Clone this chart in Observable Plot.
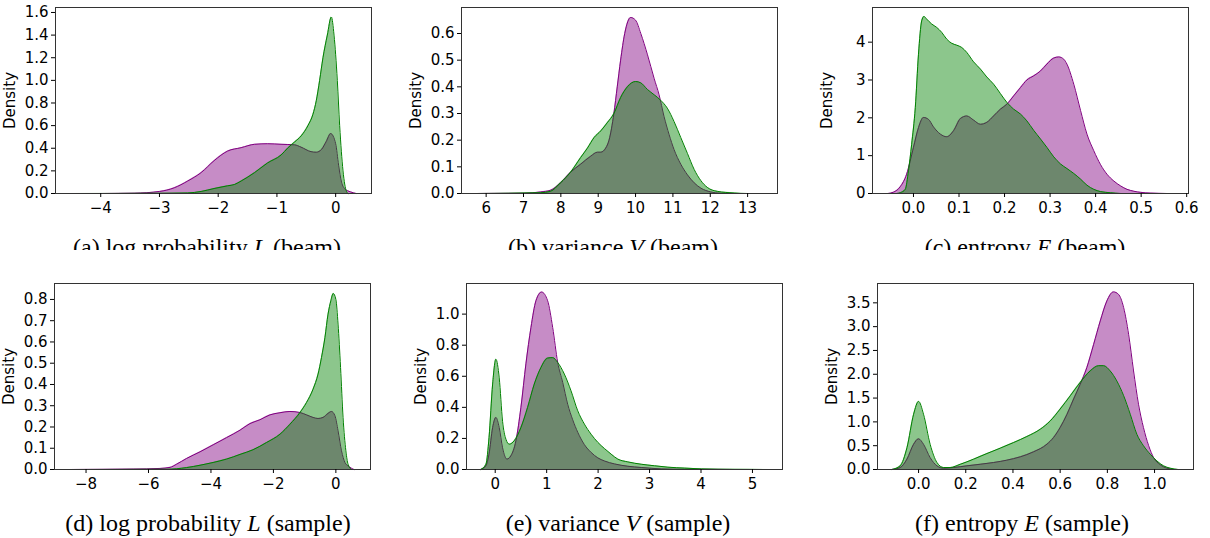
<!DOCTYPE html>
<html>
<head>
<meta charset="utf-8">
<script src="https://cdn.jsdelivr.net/npm/d3@7"></script>
<script src="https://cdn.jsdelivr.net/npm/@observablehq/plot@0.6"></script>
<style>
  html, body { margin: 0; padding: 0; background: #fff; }
  #root { position: relative; width: 1210px; height: 538px; overflow: hidden; background: #fff; }
  #row1 { position: absolute; left: 0; top: 0; width: 1210px; height: 250px; overflow: hidden; }
  .panel { position: absolute; }
  .cap { position: absolute; font-family: "Liberation Serif", "Times New Roman", serif; font-size: 24px; white-space: nowrap; transform: translateX(-50%); color: #000; line-height: 1; }
</style>
</head>
<body>
<div id="root"><div id="row1"></div></div>
<script>
// ---------- data ----------
// (a) log probability L (beam)
const aPurpleX = [-4.53,-4.0,-3.43,-3.0,-2.75,-2.52,-2.29,-2.07,-1.84,-1.61,-1.38,-1.16,-0.93,-0.70,-0.59,-0.42,-0.33,-0.24,-0.16,-0.085,0.0,0.05,0.1,0.16,0.25,0.35];
const aPurpleY = [0,0,0.003,0.018,0.05,0.11,0.185,0.29,0.375,0.405,0.435,0.44,0.435,0.43,0.41,0.37,0.365,0.39,0.46,0.53,0.44,0.25,0.1,0.04,0.015,0];
const aGreenX = [-4.53,-3.0,-2.52,-2.29,-2.07,-1.84,-1.72,-1.61,-1.38,-1.16,-0.93,-0.81,-0.70,-0.586,-0.472,-0.387,-0.33,-0.273,-0.216,-0.142,-0.074,-0.028,0.028,0.068,0.125,0.182,0.21];
const aGreenY = [0,0.002,0.005,0.018,0.044,0.068,0.08,0.11,0.185,0.27,0.34,0.405,0.455,0.51,0.60,0.70,0.82,1.0,1.2,1.4,1.56,1.4,1.0,0.6,0.2,0.02,0];

// (b) variance V (beam)
const bPurpleX = [5.74,7.01,7.46,7.72,7.99,8.26,8.53,8.80,8.98,9.07,9.20,9.29,9.42,9.51,9.60,9.71,9.87,10.0,10.14,10.32,10.50,10.63,10.76,10.90,11.03,11.21,11.39,11.57,11.75,12.01,12.28,12.64];
const bPurpleY = [0,0.001,0.006,0.012,0.04,0.08,0.11,0.14,0.155,0.155,0.17,0.2,0.3,0.4,0.5,0.6,0.66,0.65,0.6,0.52,0.43,0.37,0.29,0.22,0.165,0.11,0.07,0.04,0.02,0.006,0.001,0];
const bGreenX = [5.74,7.46,7.72,7.99,8.26,8.53,8.71,8.89,9.07,9.24,9.42,9.60,9.78,10.0,10.14,10.32,10.50,10.67,10.85,11.03,11.21,11.39,11.57,11.75,11.92,12.19,12.64,13.0,13.43];
const bGreenY = [0,0.003,0.008,0.04,0.08,0.135,0.17,0.21,0.235,0.265,0.30,0.36,0.40,0.42,0.415,0.39,0.37,0.35,0.32,0.27,0.21,0.15,0.09,0.048,0.023,0.008,0.002,0,0];

// (c) entropy E (beam)
const cPurpleX = [-0.057,-0.044,-0.029,-0.015,0,0.011,0.022,0.033,0.044,0.059,0.073,0.088,0.103,0.117,0.132,0.147,0.161,0.176,0.191,0.205,0.220,0.235,0.249,0.264,0.279,0.293,0.308,0.319,0.330,0.337,0.352,0.367,0.381,0.396,0.411,0.425,0.440,0.455,0.469,0.484,0.499,0.521,0.557,0.572];
const cPurpleY = [0,0.035,0.18,0.51,1.22,1.74,2.01,1.96,1.76,1.57,1.50,1.66,1.98,2.05,1.94,1.83,1.88,2.05,2.23,2.36,2.58,2.80,3.0,3.11,3.24,3.42,3.58,3.61,3.55,3.42,2.89,2.19,1.57,1.13,0.76,0.51,0.33,0.20,0.11,0.06,0.03,0.01,0,0];
const cGreenX = [-0.037,-0.029,-0.018,-0.011,-0.004,0.004,0.011,0.018,0.023,0.029,0.040,0.051,0.062,0.073,0.084,0.095,0.106,0.117,0.132,0.147,0.161,0.176,0.191,0.205,0.220,0.235,0.249,0.264,0.279,0.293,0.308,0.323,0.337,0.352,0.367,0.381,0.396,0.411,0.433,0.455];
const cGreenY = [0,0.02,0.11,0.6,1.3,2.27,3.68,4.56,4.68,4.61,4.48,4.39,4.26,4.08,3.97,3.92,3.86,3.73,3.48,3.29,3.08,2.89,2.64,2.41,2.23,2.10,1.92,1.67,1.44,1.22,0.97,0.78,0.66,0.53,0.38,0.22,0.11,0.05,0.02,0];

// (d) log probability L (sample)
const dPurpleX = [-8.53,-6.49,-5.63,-5.31,-5.10,-4.78,-4.35,-3.93,-3.50,-3.07,-2.75,-2.43,-2.11,-1.79,-1.47,-1.15,-0.94,-0.73,-0.57,-0.41,-0.25,-0.14,-0.03,0.07,0.18,0.29,0.39,0.50,0.58];
const dPurpleY = [0,0.002,0.005,0.01,0.025,0.052,0.083,0.116,0.15,0.185,0.216,0.234,0.257,0.267,0.273,0.268,0.257,0.245,0.24,0.245,0.264,0.273,0.253,0.182,0.088,0.033,0.017,0.006,0];
const dGreenX = [-8.53,-5.42,-4.78,-4.35,-3.93,-3.50,-3.07,-2.65,-2.22,-1.79,-1.47,-1.15,-0.94,-0.73,-0.57,-0.46,-0.35,-0.25,-0.16,-0.085,0,0.07,0.15,0.23,0.32,0.39,0.50];
const dGreenY = [0,0.001,0.009,0.02,0.033,0.049,0.071,0.093,0.127,0.166,0.213,0.268,0.315,0.378,0.449,0.527,0.621,0.731,0.794,0.828,0.80,0.684,0.48,0.245,0.088,0.025,0];

// (e) variance V (sample)
const ePurpleX = [-0.28,-0.18,-0.12,-0.05,0.013,0.078,0.143,0.227,0.305,0.403,0.50,0.597,0.695,0.792,0.903,1.019,1.117,1.214,1.312,1.409,1.506,1.604,1.734,1.864,1.994,2.123,2.318,2.578,2.838,3.227,3.682,4.656,5.305];
const ePurpleY = [0,0.024,0.1,0.27,0.335,0.27,0.14,0.067,0.088,0.185,0.4,0.68,0.914,1.086,1.142,1.086,0.914,0.69,0.56,0.42,0.32,0.24,0.16,0.11,0.075,0.055,0.036,0.021,0.013,0.004,0.001,0,0];
const eGreenX = [-0.28,-0.18,-0.12,-0.05,0.013,0.078,0.143,0.208,0.273,0.37,0.50,0.63,0.76,0.89,1.019,1.117,1.214,1.344,1.474,1.604,1.734,1.864,1.994,2.123,2.253,2.383,2.578,2.838,3.097,3.357,3.682,4.006,4.656,5.305];
const eGreenY = [0,0.034,0.206,0.55,0.71,0.59,0.31,0.195,0.163,0.185,0.27,0.4,0.55,0.657,0.717,0.72,0.689,0.614,0.506,0.378,0.292,0.227,0.175,0.135,0.099,0.067,0.049,0.034,0.024,0.015,0.009,0.004,0.001,0];

// (f) entropy E (sample)
const fPurpleX = [-0.113,-0.078,-0.049,-0.021,0,0.021,0.049,0.078,0.106,0.148,0.205,0.261,0.318,0.374,0.431,0.487,0.544,0.572,0.600,0.629,0.657,0.685,0.713,0.742,0.770,0.798,0.826,0.847,0.869,0.890,0.911,0.932,0.953,0.975,0.996,1.024,1.052,1.08];
const fPurpleY = [0,0.04,0.22,0.53,0.644,0.53,0.25,0.077,0.028,0.042,0.077,0.11,0.147,0.196,0.266,0.371,0.532,0.672,0.882,1.16,1.48,1.79,2.14,2.63,3.12,3.54,3.73,3.68,3.40,2.84,2.07,1.37,0.88,0.5,0.25,0.1,0.028,0];
const fGreenX = [-0.113,-0.078,-0.049,-0.021,0,0.021,0.049,0.078,0.106,0.134,0.177,0.233,0.29,0.346,0.403,0.459,0.516,0.558,0.60,0.643,0.685,0.727,0.763,0.784,0.812,0.84,0.869,0.897,0.925,0.953,0.982,1.01,1.038,1.066,1.10];
const fGreenY = [0,0.077,0.46,1.16,1.43,1.16,0.53,0.147,0.042,0.042,0.11,0.217,0.336,0.448,0.567,0.693,0.847,1.02,1.27,1.55,1.83,2.07,2.18,2.18,2.07,1.86,1.55,1.16,0.74,0.5,0.32,0.18,0.077,0.028,0];

// tick labels
const aXTicks = [-4,-3,-2,-1,0];            const aYTicks = [0,0.2,0.4,0.6,0.8,1.0,1.2,1.4,1.6];
const bXTicks = [6,7,8,9,10,11,12,13];      const bYTicks = [0,0.1,0.2,0.3,0.4,0.5,0.6];
const cXTicks = [0,0.1,0.2,0.3,0.4,0.5,0.6]; const cYTicks = [0,1,2,3,4];
const dXTicks = [-8,-6,-4,-2,0];            const dYTicks = [0,0.1,0.2,0.3,0.4,0.5,0.6,0.7,0.8];
const eXTicks = [0,1,2,3,4,5];              const eYTicks = [0,0.2,0.4,0.6,0.8,1.0];
const fXTicks = [0,0.2,0.4,0.6,0.8,1.0];    const fYTicks = [0,0.5,1.0,1.5,2.0,2.5,3.0,3.5];

const captions = [
  ["(a) log probability ", "L", " (beam)"],
  ["(b) variance ", "V", " (beam)"],
  ["(c) entropy ", "E", " (beam)"],
  ["(d) log probability ", "L", " (sample)"],
  ["(e) variance ", "V", " (sample)"],
  ["(f) entropy ", "E", " (sample)"]
];

// ---------- layout / drawing ----------
const ML = 60, MR = 10, MT = 5, MB = 35, FW = 316, FH = 186;
const FONT = "'DejaVu Sans', sans-serif";
const panels = [
  {px: aPurpleX, py: aPurpleY, gx: aGreenX, gy: aGreenY, xd: [-4.77, 0.61], yd: [0, 1.644], xt: aXTicks, yt: aYTicks, xf: "d", yf: ".1f", left: 55,    top: 6.5,   capX: 207,  capY: 235.3, row1: true},
  {px: bPurpleX, py: bPurpleY, gx: bGreenX, gy: bGreenY, xd: [5.34, 13.8],  yd: [0, 0.6975], xt: bXTicks, yt: bYTicks, xf: "d", yf: ".1f", left: 461,   top: 6.5,   capX: 613,  capY: 235.3, row1: true},
  {px: cPurpleX, py: cPurpleY, gx: cGreenX, gy: cGreenY, xd: [-0.090, 0.604], yd: [0, 4.916], xt: cXTicks, yt: cYTicks, xf: ".1f", yf: "d", left: 872.3, top: 6.5, capX: 1025, capY: 235.3, row1: true},
  {px: dPurpleX, py: dPurpleY, gx: dGreenX, gy: dGreenY, xd: [-9.01, 1.109], yd: [0, 0.875], xt: dXTicks, yt: dYTicks, xf: "d", yf: ".1f", left: 54.3,  top: 282.7, capX: 208,  capY: 511.3, row1: false},
  {px: ePurpleX, py: ePurpleY, gx: eGreenX, gy: eGreenY, xd: [-0.558, 5.584], yd: [0, 1.197], xt: eXTicks, yt: eYTicks, xf: "d", yf: ".1f", left: 465.7, top: 282.7, capX: 618, capY: 511.3, row1: false},
  {px: fPurpleX, py: fPurpleY, gx: fGreenX, gy: fGreenY, xd: [-0.174, 1.165], yd: [0, 3.906], xt: fXTicks, yt: fYTicks, xf: ".1f", yf: ".1f", left: 877.3, top: 282.7, capX: 1022, capY: 511.3, row1: false}
];

const root = document.getElementById("root");
const row1 = document.getElementById("row1");

panels.forEach((p, i) => {
  const purple = p.px.map((x, k) => ({x, y: p.py[k]}));
  const green = p.gx.map((x, k) => ({x, y: p.gy[k]}));
  const curve = "monotone-x";
  const svg = Plot.plot({
    width: ML + FW + MR,
    height: MT + FH + MB,
    marginLeft: ML, marginRight: MR, marginTop: MT, marginBottom: MB,
    style: {fontFamily: FONT, fontSize: "15px", background: "transparent", overflow: "visible", color: "#000"},
    x: {domain: p.xd, label: null},
    y: {domain: p.yd, label: null},
    marks: [
      Plot.areaY(purple, {x: "x", y: "y", fill: "purple", fillOpacity: 0.45, curve}),
      Plot.lineY(purple, {x: "x", y: "y", stroke: "purple", strokeWidth: 1, curve}),
      Plot.areaY(green, {x: "x", y: "y", fill: "green", fillOpacity: 0.45, curve}),
      Plot.lineY(green, {x: "x", y: "y", stroke: "green", strokeWidth: 1, curve}),
      Plot.frame({stroke: "#333", strokeWidth: 1}),
      Plot.axisX({ticks: p.xt, tickFormat: p.xf, tickSize: 4, tickPadding: 5, label: null, fontSize: 15, fontFamily: FONT}),
      Plot.axisY({ticks: p.yt, tickFormat: p.yf, tickSize: 4, tickPadding: 3, label: "Density", labelAnchor: "center", labelArrow: "none", labelOffset: 51, fontSize: 15, fontFamily: FONT})
    ]
  });
  svg.classList.add("panel");
  svg.style.left = (p.left - ML) + "px";
  svg.style.top = (p.top - MT) + "px";
  const cap = document.createElement("div");
  cap.className = "cap";
  cap.style.left = p.capX + "px";
  cap.style.top = p.capY + "px";
  const [pre, it, post] = captions[i];
  cap.append(document.createTextNode(pre));
  const em = document.createElement("i");
  em.textContent = it;
  cap.append(em);
  cap.append(document.createTextNode(post));
  const host = p.row1 ? row1 : root;
  host.appendChild(svg);
  host.appendChild(cap);
});
</script>
</body>
</html>
